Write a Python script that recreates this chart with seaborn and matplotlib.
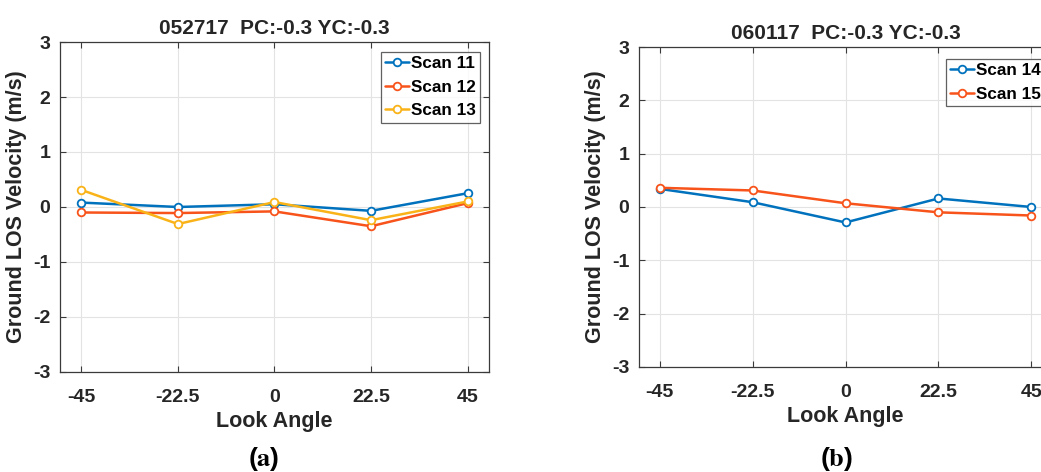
import matplotlib
matplotlib.use("Agg")
import matplotlib.pyplot as plt
import seaborn as sns
import pandas as pd

sns.set_theme(style="white")
plt.rcParams["font.family"] = ["Liberation Sans", "DejaVu Sans"]
plt.rcParams["font.weight"] = "bold"
plt.rcParams["mathtext.fontset"] = "stix"

# Look angles (degrees)
look_angles = [-45, -22.5, 0, 22.5, 45]

# Panel (a): 052717
scan11 = [0.08, 0.00, 0.05, -0.07, 0.25]
scan12 = [-0.10, -0.11, -0.08, -0.35, 0.07]
scan13 = [0.31, -0.31, 0.09, -0.24, 0.10]

# Panel (b): 060117
scan14 = [0.34, 0.09, -0.29, 0.16, 0.00]
scan15 = [0.36, 0.31, 0.07, -0.10, -0.16]

titles = ["052717  PC:-0.3 YC:-0.3", "060117  PC:-0.3 YC:-0.3"]
y_ticks = [-3, -2, -1, 0, 1, 2, 3]

c_blue = "#0072BD"
c_orange = "#F7531A"
c_yellow = "#F9B318"
txt = "#262626"

panels = [
    [("Scan 11", scan11, c_blue), ("Scan 12", scan12, c_orange), ("Scan 13", scan13, c_yellow)],
    [("Scan 14", scan14, c_blue), ("Scan 15", scan15, c_orange)],
]

fig = plt.figure(figsize=(10.41, 4.72), dpi=100)
axes = [
    fig.add_axes([0.0576, 0.2119, 0.4121, 0.6991]),
    fig.add_axes([0.6138, 0.2225, 0.3968, 0.6779]),
]

for ax, series, title in zip(axes, panels, titles):
    for name, vals, col in series:
        df = pd.DataFrame({"angle": look_angles, "vel": vals})
        sns.lineplot(data=df, x="angle", y="vel", ax=ax, color=col, label=name,
                     marker="o", markersize=5.5, markerfacecolor="white",
                     markeredgecolor=col, markeredgewidth=1.3, linewidth=1.8)
    ax.set_xlim(-50, 50)
    ax.set_ylim(-3, 3)
    ax.set_xticks(look_angles)
    ax.set_xticklabels(["-45", "-22.5", "0", "22.5", "45"])
    ax.set_yticks(y_ticks)
    ax.set_yticklabels([str(v) for v in y_ticks])
    ax.grid(True, color="#e3e3e3", linewidth=0.8)
    ax.set_axisbelow(True)
    for sp in ax.spines.values():
        sp.set_color("#3a3a3a")
        sp.set_linewidth(0.9)
    ax.tick_params(direction="in", length=4, width=0.8, color="#3a3a3a",
                   top=True, right=True, bottom=True, left=True,
                   labelsize=14, labelcolor=txt)
    ax.tick_params(axis="x", pad=12)
    ax.tick_params(axis="y", pad=7)
    for lab in ax.get_xticklabels() + ax.get_yticklabels():
        lab.set_fontweight("bold")
    ax.set_title(title, fontsize=15, fontweight="bold", color=txt, pad=6)
    ax.set_xlabel("Look Angle", fontsize=15.5, fontweight="bold", color=txt, labelpad=4)
    ax.set_ylabel("Ground LOS Velocity (m/s)", fontsize=15.5, fontweight="bold", color=txt,
                  labelpad=4)

leg_kw = dict(loc="upper right", fontsize=12.3, frameon=True, fancybox=False,
              edgecolor="#3a3a3a", handlelength=1.4, handletextpad=0.1,
              borderpad=0.25, labelspacing=0.5, borderaxespad=0)
leg_a = axes[0].legend(bbox_to_anchor=(0.979, 0.97), **leg_kw)
leg_b = axes[1].legend(bbox_to_anchor=(0.983, 0.963), **leg_kw)
for leg in (leg_a, leg_b):
    leg.get_frame().set_linewidth(0.9)
    for t in leg.get_texts():
        t.set_fontweight("bold")
        t.set_color("black")

fig.text(264 / 1041, 1 - 459 / 472, r"($\mathbf{a}$)", fontsize=19, ha="center", va="center",
         color="black")
fig.text(836 / 1041, 1 - 459 / 472, r"($\mathbf{b}$)", fontsize=19, ha="center", va="center",
         color="black")

fig.savefig("out.png", dpi=100)
